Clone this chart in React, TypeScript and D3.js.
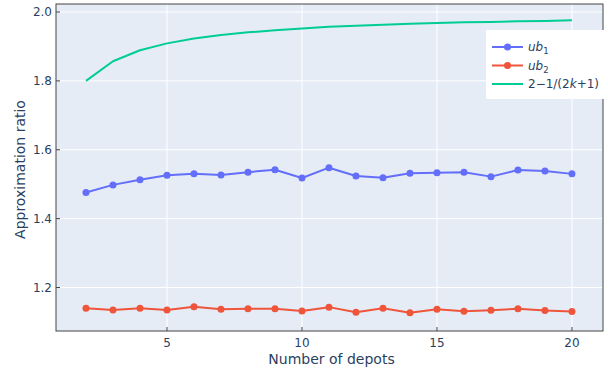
import React, { useEffect, useRef } from 'react';
import * as d3 from 'd3';

const depots = [2, 3, 4, 5, 6, 7, 8, 9, 10, 11, 12, 13, 14, 15, 16, 17, 18, 19, 20];
const ub1 = [1.476, 1.498, 1.513, 1.526, 1.53, 1.527, 1.535, 1.542, 1.518, 1.548, 1.524, 1.519, 1.532, 1.533, 1.535, 1.522, 1.541, 1.538, 1.53];
const ub2 = [1.14, 1.135, 1.14, 1.135, 1.144, 1.137, 1.138, 1.138, 1.132, 1.143, 1.128, 1.14, 1.127, 1.137, 1.131, 1.134, 1.138, 1.133, 1.13];
const bound = [1.8, 1.857, 1.889, 1.909, 1.923, 1.933, 1.941, 1.947, 1.952, 1.957, 1.96, 1.963, 1.966, 1.968, 1.97, 1.971, 1.973, 1.974, 1.976];
const xTicks = [5, 10, 15, 20];
const yTicks = [1.2, 1.4, 1.6, 1.8, 2.0];

const FONT = '"DejaVu Sans", Verdana, sans-serif';
const TEXT = '#2a3f5f';

function App() {
  const ref = useRef<SVGSVGElement>(null);

  useEffect(() => {
    if (!ref.current) return;
    const svg = d3.select(ref.current);
    svg.selectAll('*').remove();

    const left = 56, right = 603, top = 4, bottom = 331;

    const x = d3.scaleLinear().domain([0.889, 21.15]).range([left, right]);
    const y = d3.scaleLinear().domain([1.0737, 2.0233]).range([bottom, top]);

    // background
    svg.append('rect')
      .attr('x', left).attr('y', top)
      .attr('width', right - left).attr('height', bottom - top)
      .attr('fill', '#E5ECF6');

    // grid
    svg.append('g').selectAll('line').data(xTicks).join('line')
      .attr('x1', d => x(d)).attr('x2', d => x(d))
      .attr('y1', top).attr('y2', bottom)
      .attr('stroke', '#fff').attr('stroke-width', 1);
    svg.append('g').selectAll('line').data(yTicks).join('line')
      .attr('x1', left).attr('x2', right)
      .attr('y1', d => y(d)).attr('y2', d => y(d))
      .attr('stroke', '#fff').attr('stroke-width', 1);

    const series = [
      { values: bound, color: '#00cc96', markers: false },
      { values: ub1, color: '#636efa', markers: true },
      { values: ub2, color: '#EF553B', markers: true },
    ];

    const line = d3.line<number>()
      .x((_, i) => x(depots[i]))
      .y(d => y(d));

    series.forEach(s => {
      svg.append('path')
        .datum(s.values)
        .attr('d', line)
        .attr('fill', 'none')
        .attr('stroke', s.color)
        .attr('stroke-width', 2)
        .attr('stroke-linejoin', 'round');
      if (s.markers) {
        svg.append('g').selectAll('circle').data(s.values).join('circle')
          .attr('cx', (_, i) => x(depots[i]))
          .attr('cy', d => y(d))
          .attr('r', 3.5)
          .attr('fill', s.color);
      }
    });

    // frame
    svg.append('rect')
      .attr('x', left).attr('y', top)
      .attr('width', right - left).attr('height', bottom - top)
      .attr('fill', 'none').attr('stroke', '#444').attr('stroke-width', 1);

    // ticks (inside)
    svg.append('g').selectAll('line').data(xTicks).join('line')
      .attr('x1', d => x(d)).attr('x2', d => x(d))
      .attr('y1', bottom).attr('y2', bottom - 4)
      .attr('stroke', '#444');
    svg.append('g').selectAll('line').data(yTicks).join('line')
      .attr('x1', left).attr('x2', left + 4)
      .attr('y1', d => y(d)).attr('y2', d => y(d))
      .attr('stroke', '#444');

    // tick labels
    svg.append('g').selectAll('text').data(xTicks).join('text')
      .attr('x', d => x(d)).attr('y', bottom + 15.5)
      .attr('text-anchor', 'middle')
      .attr('font-family', FONT).attr('font-size', 12).attr('fill', TEXT)
      .text(d => String(d));
    svg.append('g').selectAll('text').data(yTicks).join('text')
      .attr('x', left - 4).attr('y', d => y(d))
      .attr('dy', '0.35em')
      .attr('text-anchor', 'end')
      .attr('font-family', FONT).attr('font-size', 12).attr('fill', TEXT)
      .text(d => d.toFixed(1));

    // axis titles
    svg.append('text')
      .attr('x', (left + right) / 2 + 2).attr('y', 364)
      .attr('text-anchor', 'middle')
      .attr('font-family', FONT).attr('font-size', 14).attr('fill', TEXT)
      .text('Number of depots');
    svg.append('text')
      .attr('transform', `translate(25, ${(top + bottom) / 2 + 2}) rotate(-90)`)
      .attr('text-anchor', 'middle')
      .attr('font-family', FONT).attr('font-size', 14).attr('fill', TEXT)
      .text('Approximation ratio');

    // legend
    const lg = svg.append('g').attr('transform', 'translate(486, 30)');
    lg.append('rect')
      .attr('width', 118).attr('height', 69)
      .attr('fill', '#fff');
    const items = [
      { color: '#636efa', markers: true, label: 'ub', sub: '1' },
      { color: '#EF553B', markers: true, label: 'ub', sub: '2' },
      { color: '#00cc96', markers: false, label: '', sub: '' },
    ];
    items.forEach((it, i) => {
      const cy = 17 + i * 18.5;
      lg.append('line')
        .attr('x1', 6).attr('x2', 37).attr('y1', cy).attr('y2', cy)
        .attr('stroke', it.color).attr('stroke-width', 2);
      if (it.markers) {
        lg.append('circle').attr('cx', 21.5).attr('cy', cy).attr('r', 3.5).attr('fill', it.color);
      }
      const t = lg.append('text')
        .attr('x', 42).attr('y', cy).attr('dy', '0.35em')
        .attr('font-family', FONT).attr('font-size', 12).attr('fill', TEXT);
      if (it.label) {
        t.append('tspan').attr('font-style', 'italic').text(it.label);
        t.append('tspan').attr('font-size', 8.5).attr('dy', 3).text(it.sub);
      } else {
        t.append('tspan').text('2\u22121/(2');
        t.append('tspan').attr('font-style', 'italic').text('k');
        t.append('tspan').text('+1)');
      }
    });
  }, []);

  return <svg ref={ref} width={608} height={370} style={{ position: 'absolute', left: 0, top: 0 }} />;
}

export default App;
